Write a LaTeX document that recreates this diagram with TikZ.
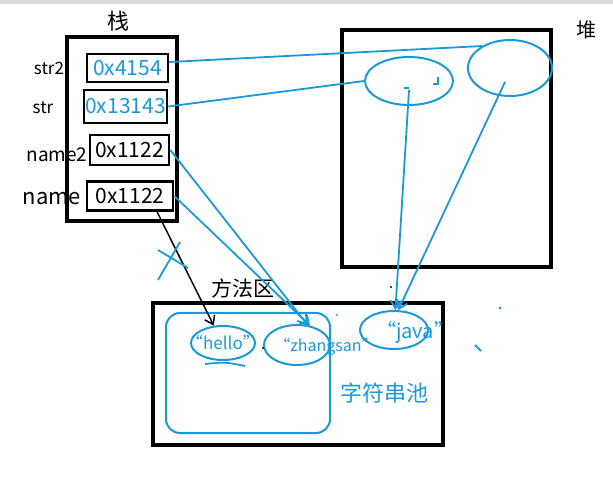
\documentclass[tikz,border=0pt]{standalone}
\usepackage{fontspec}
\setmainfont{Noto Sans CJK SC}
\usetikzlibrary{shapes.geometric,arrows.meta}
\definecolor{pen}{RGB}{27,152,216}
\def\fs#1{\fontsize{#1}{#1}\selectfont}
\tikzset{
  cell/.style={draw, line width=2.5pt, inner sep=0pt, font=\fs{21}},
  area/.style={line width=3.5pt},
  blob/.style={ellipse, draw=pen, line width=2pt, inner sep=0pt},
  link/.style={pen, line width=1.8pt},
  tip/.style={-{Straight Barb[length=8pt,width=11pt]}}
}

\begin{document}
\begin{tikzpicture}[x=1pt, y=-1pt]
  \useasboundingbox (0,0) rectangle (613,478);
  \fill[black!15] (0,0) rectangle (613,4);

  % stack
  \draw[area] (67,37) rectangle (177,221);
  \node[font=\fs{22}] (stacklbl) at (118,21) {栈};
  \node[cell, minimum width=81, minimum height=28, text=pen] (str2) at (127.5,68) {0x4154};
  \node[cell, minimum width=83, minimum height=33, text=pen] (str) at (125.5,106.5) {0x13143};
  \node[cell, minimum width=79, minimum height=30] (name2) at (129.5,150) {0x1122};
  \node[cell, minimum width=86, minimum height=29] (name) at (130,196) {0x1122};
  \node[font=\fs{17}] (lstr2) at (49,68) {str2};
  \node[font=\fs{17}] (lstr) at (43,108) {str};
  \node[font=\fs{19}] (lname2) at (57,155) {name2};
  \node[font=\fs{22}] (lname) at (52,199) {name};

  % heap
  \draw[area] (342,30) rectangle (551,267);
  \node[font=\fs{20}] (heaplbl) at (586,30) {堆};
  \node[blob, minimum width=88, minimum height=48] (objA) at (409,81) {};
  \node[blob, minimum width=84, minimum height=56] (objB) at (510,68) {};
  \draw[pen, line width=1.2pt] (433,84) -- (438,84) -- (438,77);
  \draw[pen, line width=1.2pt] (404,88) -- (409,88);

  % method area
  \draw[area] (153,303) rectangle (443,445);
  \node[font=\fs{21}] (methodlbl) at (243,288) {方法区};
  \draw[pen, line width=2pt, rounded corners=14pt] (166,313) rectangle (330,433);
  \node[blob, minimum width=64, minimum height=34] (hello) at (223,343) {};
  \node[blob, minimum width=66, minimum height=40] (zhang) at (297,345) {};
  \node[blob, minimum width=68, minimum height=38] (java) at (394,330) {};
  \node[text=pen, font=\fs{17}] (thello) at (223,342) {“hello”};
  \node[text=pen, font=\fs{16}] (tzhang) at (326,347) {“zhangsan”};
  \node[text=pen, font=\fs{20}] (tjava) at (415,332) {“java”};
  \node[text=pen, font=\fs{22}] (pool) at (384,393) {字符串池};
  \draw[link] (205,364) .. controls (225,362) .. (245,366);

  % references
  \draw[link] ([yshift=6pt]str2.east) -- (objB.142);
  \draw[link] (str.east) -- (objA.west);
  \draw[link, tip] ([yshift=-9pt]objA.center) -- (java.86);
  \draw[link, tip] ([xshift=-5pt, yshift=-14pt]objB.center) -- (java.78);
  \draw[link, tip] (name2.east) -- (zhang.62);
  \draw[link, tip] (name.east) -- (zhang.56);
  \draw[line width=1.5pt, tip] ([xshift=27pt]name.south) -- (hello.118);
  \draw[link] (158,250) -- (188,268);
  \draw[link] (180,242) -- (158,280);

  % stray marks
  \fill (391,287) circle (1.2);
  \fill (263,348) circle (1.2);
  \fill[pen] (337,315) circle (1.2);
  \fill[pen] (500,308) circle (1.5);
  \draw[link] (475,345) -- (481,351);
\end{tikzpicture}
\end{document}
